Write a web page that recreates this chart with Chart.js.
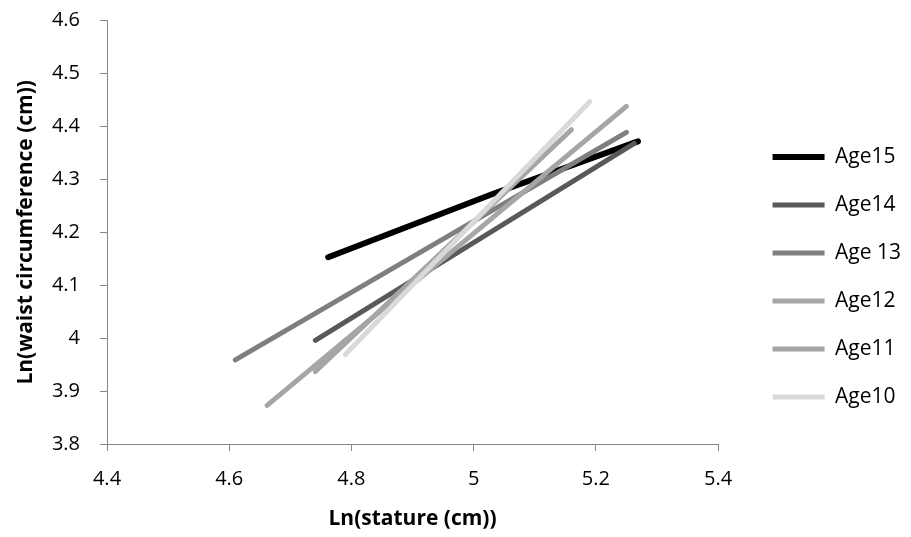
<!DOCTYPE html>
<html>
<head>
<meta charset="utf-8">
<script src="https://cdn.jsdelivr.net/npm/chart.js@4.4.1/dist/chart.umd.min.js"></script>
<style>
  html, body { margin: 0; padding: 0; background: #fff; }
  #wrap { width: 911px; height: 537px; }
</style>
</head>
<body>
<div id="wrap"><canvas id="chart"></canvas></div>
<script>
// Series labels, legend order (top to bottom)
var seriesNames = ['Age15', 'Age14', 'Age 13', 'Age12', 'Age11', 'Age10'];

// Ln(stature) / Ln(waist) end points
var age15X = [4.762, 5.03, 5.269];
var age15Y = [4.153, 4.272, 4.372];
var age14X = [4.741, 5.263];
var age14Y = [3.996, 4.368];
var age13X = [4.610, 5.250];
var age13Y = [3.959, 4.389];
var age12X = [4.662, 5.250];
var age12Y = [3.873, 4.438];
var age11X = [4.741, 5.160];
var age11Y = [3.937, 4.394];
var age10X = [4.790, 5.190];
var age10Y = [3.969, 4.447];

var xTicks = [4.4, 4.6, 4.8, 5, 5.2, 5.4];
var yTicks = [3.8, 3.9, 4, 4.1, 4.2, 4.3, 4.4, 4.5, 4.6];

var lineColors = ['#000000', '#595959', '#7f7f7f', '#a6a6a6', '#a5a5a5', '#d9d9d9'];
var lineWidths = [6, 5, 5, 5, 5, 5];

function toPoints(xs, ys) {
    var pts = [];
    for (var i = 0; i < xs.length; i++) {
        pts.push({ x: xs[i], y: ys[i] });
    }
    return pts;
}

var allX = [age15X, age14X, age13X, age12X, age11X, age10X];
var allY = [age15Y, age14Y, age13Y, age12Y, age11Y, age10Y];

// Age10 first so it is painted on top; legend is reversed back
var datasets = [];
for (var k = seriesNames.length - 1; k >= 0; k--) {
    datasets.push({
        label: seriesNames[k],
        data: toPoints(allX[k], allY[k]),
        borderColor: lineColors[k],
        backgroundColor: lineColors[k],
        borderWidth: lineWidths[k],
        borderCapStyle: 'round',
        borderJoinStyle: 'round',
        pointRadius: 0,
        showLine: true,
        tension: 0
    });
}

var fontName = '"Open Sans", sans-serif';
var axisGray = '#868686';

function fmt(v) {
    return String(parseFloat(Number(v).toFixed(2)));
}

// push the legend a bit to the right of the plot, like the original
var legendShift = {
    id: 'legendShift',
    afterLayout: function (chart) {
        if (chart.legend) {
            chart.legend.left += 27.5;
            chart.legend.right += 27.5;
        }
    }
};

var ctx = document.getElementById('chart').getContext('2d');

var chart = new Chart(ctx, {
    type: 'scatter',
    data: { datasets: datasets },
    plugins: [legendShift],
    options: {
        responsive: true,
        maintainAspectRatio: false,
        animation: false,
        layout: { padding: { top: 17, left: 0, right: 27.5, bottom: 0 } },
        plugins: {
            tooltip: { enabled: false },
            legend: {
                position: 'right',
                align: 'center',
                reverse: true,
                labels: {
                    usePointStyle: true,
                    pointStyle: 'line',
                    pointStyleWidth: 52,
                    padding: 27,
                    color: '#000',
                    font: { family: fontName, size: 21 }
                }
            }
        },
        scales: {
            x: {
                type: 'linear',
                min: 4.4,
                max: 5.4,
                afterBuildTicks: function (axis) {
                    axis.ticks = xTicks.map(function (v) { return { value: v }; });
                },
                afterFit: function (axis) {
                    axis.height = 93;
                    axis.paddingLeft = 0;
                    axis.paddingRight = 0;
                },
                ticks: {
                    color: '#000',
                    padding: 16,
                    font: { family: fontName, size: 20 },
                    callback: fmt
                },
                grid: {
                    drawOnChartArea: false,
                    drawTicks: true,
                    tickLength: 7,
                    color: axisGray
                },
                border: { display: true, color: axisGray, width: 1 },
                title: {
                    display: true,
                    text: 'Ln(stature (cm))',
                    color: '#000',
                    font: { family: fontName, size: 21, weight: 'bold' },
                    padding: { top: 0, bottom: 5.4 }
                }
            },
            y: {
                type: 'linear',
                min: 3.8,
                max: 4.6,
                afterBuildTicks: function (axis) {
                    axis.ticks = yTicks.map(function (v) { return { value: v }; });
                },
                afterFit: function (axis) {
                    axis.width = 107;
                    axis.paddingTop = 20.7;
                    axis.paddingBottom = 0;
                },
                ticks: {
                    color: '#000',
                    padding: 20,
                    font: { family: fontName, size: 20 },
                    callback: fmt
                },
                grid: {
                    drawOnChartArea: false,
                    drawTicks: true,
                    tickLength: 7,
                    color: axisGray
                },
                border: { display: true, color: axisGray, width: 1 },
                title: {
                    display: true,
                    text: 'Ln(waist circumference (cm))',
                    color: '#000',
                    font: { family: fontName, size: 21, weight: 'bold' },
                    padding: { top: 13.4, bottom: 0 }
                }
            }
        }
    }
});
</script>
</body>
</html>
